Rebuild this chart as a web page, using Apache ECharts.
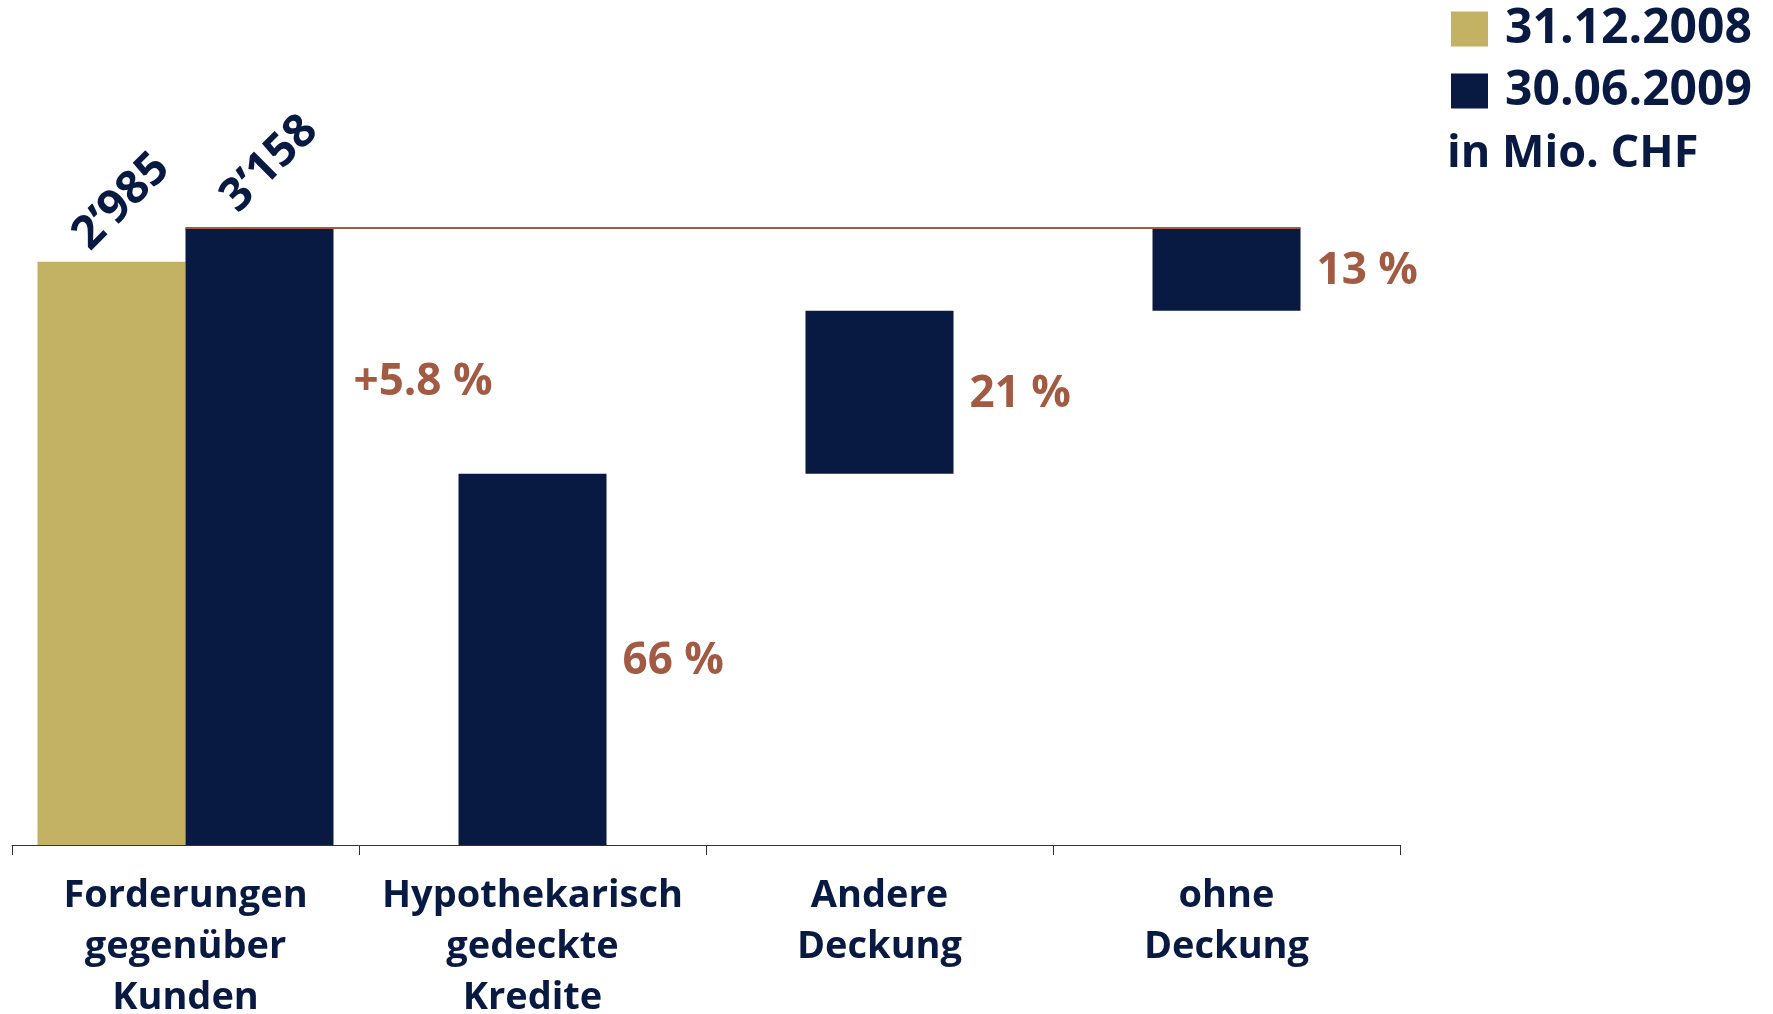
<!DOCTYPE html>
<html>
<head>
<meta charset="utf-8">
<script src="https://cdn.jsdelivr.net/npm/echarts@6/dist/echarts.min.js"></script>
<style>
  html, body { margin: 0; padding: 0; background: #fff; }
  #chart { width: 1773px; height: 1014px; }
</style>
</head>
<body>
<div id="chart"></div>
<script>
// Kategorien und Werte (in Mio. CHF)
const categories = ['Forderungen\ngegenüber\nKunden', 'Hypothekarisch\ngedeckte\nKredite', 'Andere\nDeckung', 'ohne\nDeckung']
const legendNames = ['31.12.2008', '30.06.2009']
const prevTotal = 2985
const currTotal = 3158
const parts = [1900, 835, 423]          // Aufteilung 30.06.2009 (aus dem Bild gelesen)
const shares = ['66 %', '21 %', '13 %']
const valueLabels = ['2’985', '3’158']
const change = '+5.8 %'

const gold = '#c4b264'
const navy = '#081942'
const brown = '#a25a42'
const font = 'Open Sans'
const barW = 148

// Basis für den Wasserfall
const bases = []
let run = 0
parts.forEach(p => { bases.push(run); run += p })

const chart = echarts.init(document.getElementById('chart'))

const rotLabel = (text, pos) => ({
  show: true,
  formatter: text,
  position: pos,
  rotate: 45,
  align: 'center',
  verticalAlign: 'middle',
  color: navy,
  fontFamily: font,
  fontWeight: 'bold',
  fontSize: 46
})

const option = {
  animation: false,
  grid: { left: 12, right: 373, top: 228, bottom: 169, outerBoundsMode: 'none', containLabel: false },
  legend: {
    data: legendNames,
    orient: 'vertical',
    left: 1446,
    top: 0,
    icon: 'rect',
    itemWidth: 37,
    itemHeight: 35,
    itemGap: 14,
    selectedMode: false,
    textStyle: {
      color: navy, fontFamily: font, fontWeight: 'bold', fontSize: 48,
      lineHeight: 46, padding: [0, 0, 0, 12]
    }
  },
  title: {
    text: 'in Mio. CHF',
    left: 1447,
    top: 129,
    padding: 0,
    textStyle: { color: navy, fontFamily: font, fontWeight: 'bold', fontSize: 45, lineHeight: 50 }
  },
  xAxis: [
    {
      type: 'category',
      data: categories,
      axisLine: { lineStyle: { color: '#333', width: 1 } },
      axisTick: { show: true, length: 10, lineStyle: { color: '#333', width: 1 } },
      axisLabel: {
        interval: 0,
        margin: 26,
        color: navy,
        fontFamily: font,
        fontWeight: 'bold',
        fontSize: 38,
        lineHeight: 51
      }
    },
    { type: 'category', data: categories, show: false }
  ],
  yAxis: {
    type: 'value', min: 0, max: currTotal, show: false,
    splitLine: { show: false }
  },
  series: [
    {
      name: legendNames[0], type: 'bar', xAxisIndex: 0,
      data: [prevTotal, '-', '-', '-'],
      barWidth: barW, barGap: '0%',
      itemStyle: { color: gold },
      label: rotLabel(valueLabels[0], [84, -60])
    },
    {
      name: legendNames[1], type: 'bar', xAxisIndex: 0,
      data: [currTotal, '-', '-', '-'],
      barWidth: barW, barGap: '0%',
      itemStyle: { color: navy },
      label: rotLabel(valueLabels[1], [84, -64])
    },
    {
      name: 'basis', type: 'bar', xAxisIndex: 1, stack: 'w', silent: true,
      data: ['-'].concat(bases),
      barWidth: barW,
      itemStyle: { color: 'rgba(0,0,0,0)' }
    },
    {
      name: legendNames[1], type: 'bar', xAxisIndex: 1, stack: 'w',
      data: ['-'].concat(parts),
      barWidth: barW,
      itemStyle: { color: navy },
      label: {
        show: true,
        position: 'right',
        distance: 16,
        offset: [0, 2],
        formatter: p => shares[p.dataIndex - 1],
        color: brown,
        fontFamily: font,
        fontWeight: 'bold',
        fontSize: 44
      }
    }
  ]
}

chart.setOption(option)

// Referenzlinie und Veränderung über die Achsen-Umrechnung platzieren
const yTop = chart.convertToPixel({ yAxisIndex: 0 }, currTotal)
const yZero = chart.convertToPixel({ yAxisIndex: 0 }, 0)
const xStart = chart.convertToPixel({ xAxisIndex: 0 }, 0)
const xEnd = chart.convertToPixel({ xAxisIndex: 1 }, categories.length - 1) + barW / 2

chart.setOption({
  graphic: [
    {
      type: 'line', z: 10,
      shape: { x1: xStart, y1: yTop, x2: xEnd, y2: yTop },
      style: { stroke: brown, lineWidth: 2 }
    },
    {
      type: 'text', z: 10,
      x: xStart + barW + 20,
      y: yTop + (yZero - yTop) * 0.25,
      style: {
        text: change, fill: brown, font: 'bold 44px "Open Sans"',
        textAlign: 'left', textVerticalAlign: 'middle'
      }
    }
  ]
})
</script>
</body>
</html>
